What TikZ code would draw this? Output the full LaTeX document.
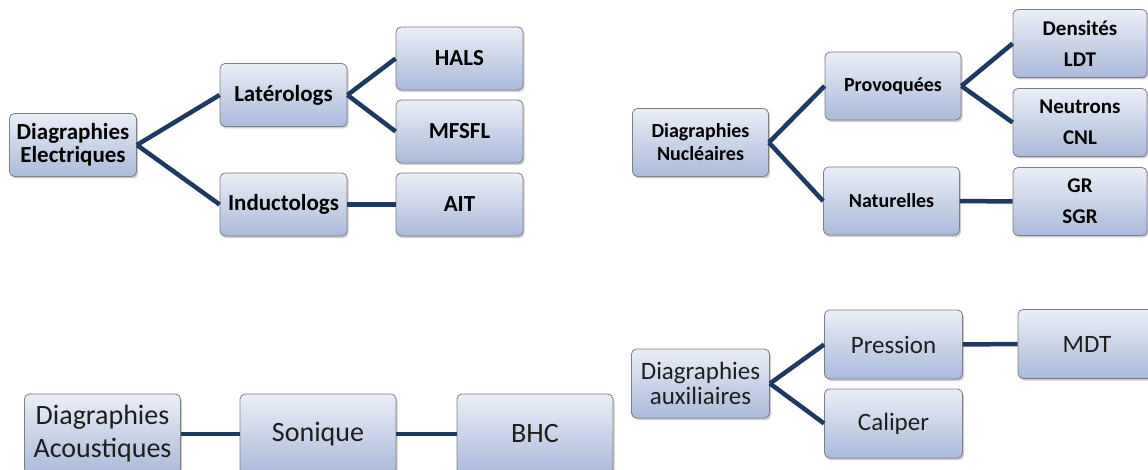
\documentclass[tikz,border=0pt]{standalone}
\usepackage{fontspec}
\setmainfont{Carlito}
\usepackage{xcolor}
\usetikzlibrary{shadows}
\definecolor{boxtop}{HTML}{EAEEF7}
\definecolor{boxbot}{HTML}{ABBADA}
\definecolor{boxline}{HTML}{7F7F7F}
\definecolor{linknavy}{HTML}{1F3A60}
\definecolor{txtgray}{HTML}{1E1E1E}

\begin{document}
\begin{tikzpicture}[x=1pt,y=-1pt]

\tikzset{
b/.style={
    draw=boxline,
    line width=0.8pt,
    rounded corners=5pt,
    top color=boxtop,
    bottom color=boxbot,
    drop shadow={shadow xshift=1.5pt,shadow yshift=-2pt,opacity=0.4},
    inner sep=0pt,
    align=center
},
be/.style={b,minimum width=127pt,minimum height=63pt,font=\fontsize{23}{23}\selectfont\bfseries},
bn/.style={b,minimum width=136pt,minimum height=68pt,font=\fontsize{20}{23}\selectfont\bfseries},
bnr/.style={bn,font=\fontsize{21}{31}\selectfont\bfseries},
bx/.style={b,minimum width=138pt,minimum height=69pt,text=txtgray,font=\fontsize{25}{25}\selectfont},
ba/.style={b,minimum width=156pt,minimum height=80pt,text=txtgray,font=\fontsize{28}{33}\selectfont},
l/.style={line width=4.5pt,draw=linknavy}
}

\useasboundingbox (0,0) rectangle (1148,470);

% diagraphies electriques
\node[be] (elec) at (73,145) {Diagraphies\\Electriques};
\node[be] (lat) at (283.5,95) {Latérologs};
\node[be] (ind) at (283.5,204.5) {Inductologs};
\node[be] (hals) at (459.5,58.5) {HALS};
\node[be] (mfsfl) at (459.5,131.5) {MFSFL};
\node[be] (ait) at (459.5,204.5) {AIT};

\draw[l] (elec.east) -- (lat.west);
\draw[l] (elec.east) -- (ind.west);
\draw[l] (lat.east) -- (hals.west);
\draw[l] (lat.east) -- (mfsfl.west);
\draw[l] (ind.east) -- (ait.west);

% diagraphies nucleaires
\node[bn] (nucl) at (700.5,142.5) {Diagraphies\\Nucléaires};
\node[bn] (prov) at (893,86) {Provoquées};
\node[bn] (natu) at (891.5,201) {Naturelles};
\node[bnr,minimum width=134pt] (dens) at (1080,43.5) {Densités\\LDT};
\node[bnr,minimum width=134pt] (neut) at (1080,122.5) {Neutrons\\CNL};
\node[bnr,minimum width=134pt] (gr) at (1080,201.5) {GR\\SGR};

\draw[l] (nucl.east) -- (prov.west);
\draw[l] (nucl.east) -- (natu.west);
\draw[l] (prov.east) -- (dens.west);
\draw[l] (prov.east) -- (neut.west);
\draw[l] (natu.east) -- (gr.west);

% diagraphies acoustiques
\node[ba] (acou) at (102.5,434) {Diagraphies\\Acoustiques};
\node[ba] (son) at (318,434) {Sonique};
\node[ba] (bhc) at (535,434) {BHC};

\draw[l] (acou.east) -- (son.west);
\draw[l] (son.east) -- (bhc.west);

% diagraphies auxiliaires
\node[bx] (aux) at (700.5,383.5) {Diagraphies\\auxiliaires};
\node[bx] (pres) at (893.5,344.5) {Pression};
\node[bx] (cal) at (893.5,423.5) {Caliper};
\node[bx] (mdt) at (1087,344) {MDT};

\draw[l] (aux.east) -- (pres.west);
\draw[l] (aux.east) -- (cal.west);
\draw[l] (pres.east) -- (mdt.west);

\end{tikzpicture}
\end{document}
